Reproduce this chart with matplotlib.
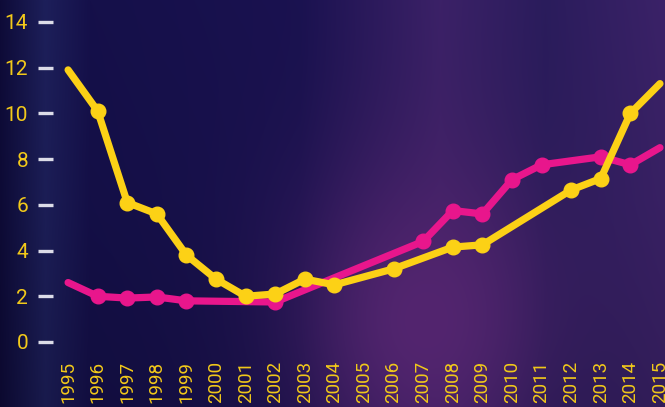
import numpy as np
import matplotlib
matplotlib.use("Agg")
import matplotlib.pyplot as plt
from matplotlib.colors import to_rgb

# data
years_yellow = [1995, 1996, 1997, 1998, 1999, 2000, 2001, 2002, 2003, 2004,
                2006, 2008, 2009, 2012, 2013, 2014, 2015]
vals_yellow = [11.9, 10.1, 6.1, 5.6, 3.8, 2.75, 2.0, 2.1, 2.75, 2.5,
               3.2, 4.15, 4.25, 6.65, 7.15, 10.0, 11.3]

years_pink = [1995, 1996, 1997, 1998, 1999, 2002, 2007, 2008, 2009, 2010,
              2011, 2013, 2014, 2015]
vals_pink = [2.6, 2.0, 1.92, 1.97, 1.8, 1.75, 4.4, 5.75, 5.6, 7.1,
             7.75, 8.1, 7.75, 8.5]

x_ticks = list(range(1995, 2016))
y_ticks = [0, 2, 4, 6, 8, 10, 12, 14]

YELLOW = "#fcd116"
LABEL = "#f2c91a"
PINK = "#e8168c"

W, H = 665, 407
fig = plt.figure(figsize=(W / 100, H / 100), dpi=100)

# background: dark navy with purple glows
xs = np.arange(W)
ys = np.arange(H)
stops_x = [0, 45, 90, 300, 440, 545, 665]
stops_c = ["#0e0b38", "#1d1f5a", "#15104a", "#1a1250", "#3b2167", "#2a1c5c", "#3b2268"]
cols = np.array([to_rgb(c) for c in stops_c])
prof = np.stack([np.interp(xs, stops_x, cols[:, k]) for k in range(3)], axis=1)
img = np.repeat(prof[None, :, :], H, axis=0)
vy = np.interp(ys, [0, 200, 407], [1.0, 0.95, 0.85])[:, None, None]
img = img * vy
X, Y = np.meshgrid(xs, ys)
r = np.sqrt(((X - 425) / 125.0) ** 2 + ((Y - 320) / 160.0) ** 2)
g = np.exp(-r ** 2)[:, :, None]
glow = np.array(to_rgb("#53256f"))
img = img * (1 - g) + glow * g
img = np.clip(img, 0, 1)

bg = fig.add_axes([0, 0, 1, 1])
bg.imshow(img, aspect="auto", extent=[0, 1, 0, 1], interpolation="bilinear")
bg.axis("off")
bg.set_zorder(0)

left_px, right_px, bottom_px, top_px = 53, 665, 350, 10
ax = fig.add_axes([left_px / W, (H - bottom_px) / H,
                   (right_px - left_px) / W, (bottom_px - top_px) / H])
ax.set_zorder(1)
ax.patch.set_alpha(0)

ax.plot(years_pink, vals_pink, color=PINK, lw=5.2, marker="o", ms=10.5,
        markevery=list(range(1, len(years_pink) - 1)),
        solid_capstyle="round", solid_joinstyle="round", clip_on=False, zorder=2)
ax.plot(years_yellow, vals_yellow, color=YELLOW, lw=5.2, marker="o", ms=10.5,
        markevery=list(range(1, len(years_yellow) - 1)),
        solid_capstyle="round", solid_joinstyle="round", clip_on=False, zorder=3)

ax.set_xlim(1994.49, 2015.17)
ax.set_ylim(-0.35, 14.52)

for s in ax.spines.values():
    s.set_visible(False)

ax.set_yticks(y_ticks)
ax.set_yticklabels([str(v) for v in y_ticks], fontsize=15, color=LABEL,
                   fontfamily="Roboto")
ax.tick_params(axis="y", direction="out", length=11, width=2.4,
               color="#dcdce8", pad=7)

ax.set_xticks(x_ticks)
ax.set_xticklabels([str(v) for v in x_ticks], rotation=90, fontsize=13.5,
                   color=LABEL, fontfamily="Roboto")
ax.tick_params(axis="x", length=0, pad=8)

fig.savefig("out.png", dpi=100)
